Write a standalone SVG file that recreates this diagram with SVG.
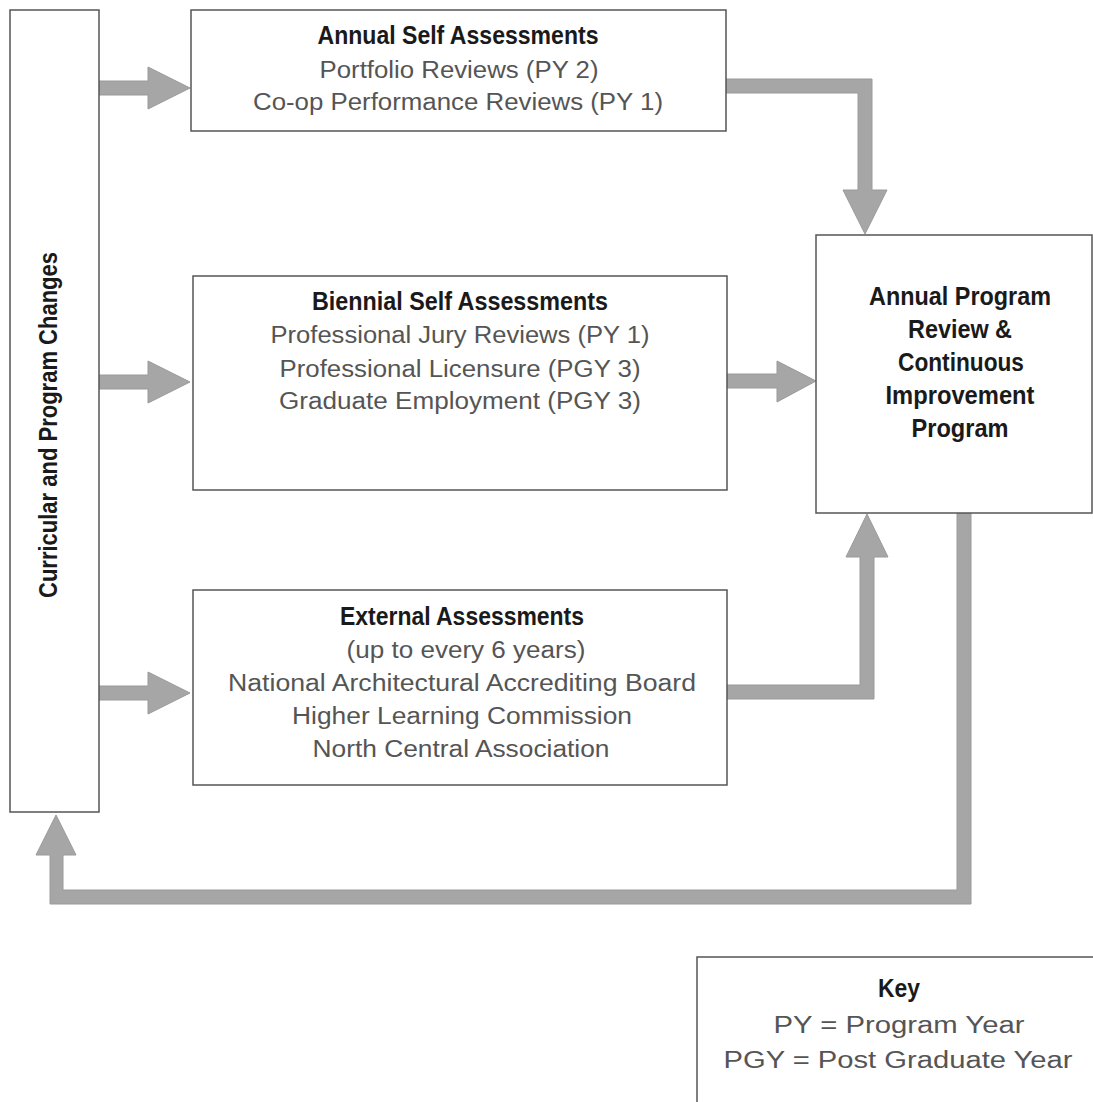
<svg xmlns="http://www.w3.org/2000/svg" width="1093" height="1102" viewBox="0 0 1093 1102">
<style>
.box{fill:#fff;stroke:#555;stroke-width:1.5}
.arr{fill:#a6a6a6;stroke:#9a9a9a;stroke-width:1}
.b{font-family:"Liberation Sans",Arial,sans-serif;font-weight:bold;font-size:26px;fill:#1a1a1a;text-anchor:middle}
.r{font-family:"Liberation Sans",Arial,sans-serif;font-size:23px;fill:#555;text-anchor:middle}
</style>
<rect width="1093" height="1102" fill="#fff"/>
<g id="connectors">
<polygon class="arr" points="98,81 148,81 148,67 190,88 148,109 148,95 98,95"/>
<polygon class="arr" points="98,375 148,375 148,361 190,382 148,403 148,389 98,389"/>
<polygon class="arr" points="98,686 148,686 148,672 190,693 148,714 148,700 98,700"/>
<polygon class="arr" points="726,79 872,79 872,190 887,190 865,234 843,190 858,190 858,93 726,93"/>
<polygon class="arr" points="727,374 777,374 777,361 816,381 777,402 777,388 727,388"/>
<polygon class="arr" points="727,699 874,699 874,557 888,557 867,514 846,557 860,557 860,685 727,685"/>
<polygon class="arr" points="957,513 971,513 971,904 50,904 50,855 36,855 56,815 76,855 63,855 63,890 957,890"/>
</g>
<g id="curricular">
<rect class="box" x="10" y="10" width="89" height="802"/>
<text class="b" transform="translate(57,425) rotate(-90)" textLength="346" lengthAdjust="spacingAndGlyphs">Curricular and Program Changes</text>
</g>
<g id="annual">
<rect class="box" x="191" y="10" width="535" height="121"/>
<text class="b" x="458" y="44" textLength="281" lengthAdjust="spacingAndGlyphs">Annual Self Assessments</text>
<text class="r" x="459" y="78" textLength="279" lengthAdjust="spacingAndGlyphs">Portfolio Reviews (PY 2)</text>
<text class="r" x="458" y="110" textLength="410" lengthAdjust="spacingAndGlyphs">Co-op Performance Reviews (PY 1)</text>
</g>
<g id="biennial">
<rect class="box" x="193" y="276" width="534" height="214"/>
<text class="b" x="460" y="310" textLength="296" lengthAdjust="spacingAndGlyphs">Biennial Self Assessments</text>
<text class="r" x="460" y="343" textLength="379" lengthAdjust="spacingAndGlyphs">Professional Jury Reviews (PY 1)</text>
<text class="r" x="460" y="377" textLength="361" lengthAdjust="spacingAndGlyphs">Professional Licensure (PGY 3)</text>
<text class="r" x="460" y="409" textLength="362" lengthAdjust="spacingAndGlyphs">Graduate Employment (PGY 3)</text>
</g>
<g id="external">
<rect class="box" x="193" y="590" width="534" height="195"/>
<text class="b" x="462" y="625" textLength="244" lengthAdjust="spacingAndGlyphs">External Assessments</text>
<text class="r" x="466" y="658" textLength="239" lengthAdjust="spacingAndGlyphs">(up to every 6 years)</text>
<text class="r" x="462" y="691" textLength="468" lengthAdjust="spacingAndGlyphs">National Architectural Accrediting Board</text>
<text class="r" x="462" y="724" textLength="340" lengthAdjust="spacingAndGlyphs">Higher Learning Commission</text>
<text class="r" x="461" y="757" textLength="297" lengthAdjust="spacingAndGlyphs">North Central Association</text>
</g>
<g id="review">
<rect class="box" x="816" y="235" width="276" height="278"/>
<text class="b" x="960" y="305" textLength="182" lengthAdjust="spacingAndGlyphs">Annual Program</text>
<text class="b" x="960" y="338" textLength="104" lengthAdjust="spacingAndGlyphs">Review &amp;</text>
<text class="b" x="961" y="371" textLength="126" lengthAdjust="spacingAndGlyphs">Continuous</text>
<text class="b" x="960" y="404" textLength="149" lengthAdjust="spacingAndGlyphs">Improvement</text>
<text class="b" x="960" y="437" textLength="97" lengthAdjust="spacingAndGlyphs">Program</text>
</g>
<g id="key">
<path d="M697,1102 V957 H1093" fill="none" stroke="#555" stroke-width="1.5"/>
<text class="b" x="899" y="997" textLength="42" lengthAdjust="spacingAndGlyphs">Key</text>
<text class="r" x="899" y="1033" textLength="251" lengthAdjust="spacingAndGlyphs">PY = Program Year</text>
<text class="r" x="898" y="1068" textLength="349" lengthAdjust="spacingAndGlyphs">PGY = Post Graduate Year</text>
</g>
</svg>
